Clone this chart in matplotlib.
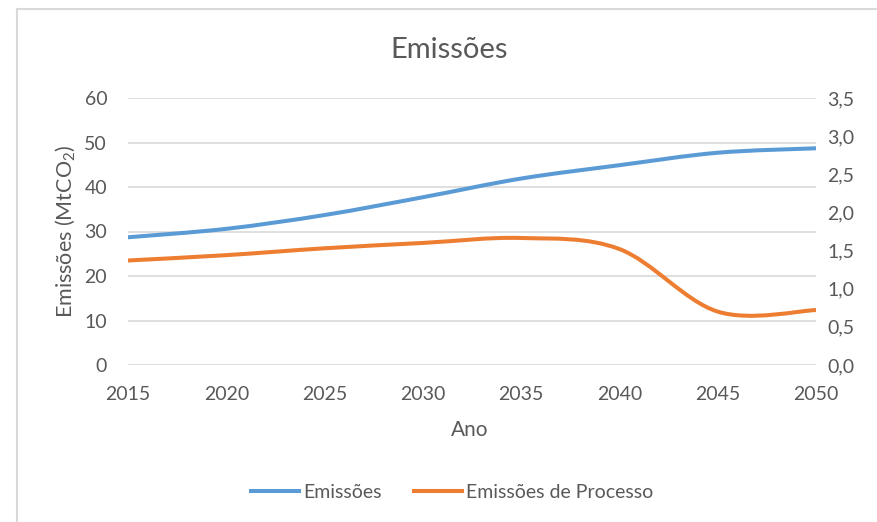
import matplotlib
matplotlib.use("Agg")
import matplotlib.pyplot as plt
from matplotlib.path import Path
from matplotlib.patches import PathPatch
from matplotlib.lines import Line2D

plt.rcParams['font.family'] = ['Lato', 'DejaVu Sans']
plt.rcParams['mathtext.fontset'] = 'custom'
plt.rcParams['mathtext.rm'] = 'Lato'
plt.rcParams['mathtext.it'] = 'Lato:italic'

anos = [2015, 2020, 2025, 2030, 2035, 2040, 2045, 2050]
emissoes = [28.7, 30.6, 33.7, 37.7, 41.9, 44.9, 47.7, 48.7]
emissoes_processo = [1.37, 1.44, 1.53, 1.60, 1.665, 1.52, 0.70, 0.72]
ticks_esq = [0, 10, 20, 30, 40, 50, 60]
ticks_dir = [0.0, 0.5, 1.0, 1.5, 2.0, 2.5, 3.0, 3.5]

AZUL = '#5B9BD5'
LARANJA = '#ED7D31'
CINZA = '#595959'
GRADE = '#D9D9D9'


def curva_suave(ax, xs, ys, cor, lw):
    """Smoothed line through the points using cubic Bezier segments."""
    n = len(xs)
    pts = list(zip(xs, ys))
    verts = [pts[0]]
    codes = [Path.MOVETO]
    for i in range(n - 1):
        p0 = pts[max(i - 1, 0)]
        p1 = pts[i]
        p2 = pts[i + 1]
        p3 = pts[min(i + 2, n - 1)]
        c1 = (p1[0] + (p2[0] - p0[0]) / 6, p1[1] + (p2[1] - p0[1]) / 6)
        c2 = (p2[0] - (p3[0] - p1[0]) / 6, p2[1] - (p3[1] - p1[1]) / 6)
        verts += [c1, c2, p2]
        codes += [Path.CURVE4] * 3
    patch = PathPatch(Path(verts, codes), facecolor='none', edgecolor=cor,
                      lw=lw, capstyle='round', joinstyle='round', zorder=3)
    ax.add_patch(patch)


fig = plt.figure(figsize=(8.77, 5.22), dpi=100)
ax = fig.add_axes([128 / 877, 1 - 365 / 522, 688 / 877, 267 / 522])
ax2 = ax.twinx()

curva_suave(ax, anos, emissoes, AZUL, 2.9)
curva_suave(ax2, anos, emissoes_processo, LARANJA, 2.9)

ax.set_xlim(anos[0], anos[-1])
ax.set_ylim(0, 60)
ax2.set_ylim(0, 3.5)
ax.set_xticks(anos)
ax.set_xticklabels([str(a) for a in anos])
ax.set_yticks(ticks_esq)
ax2.set_yticks(ticks_dir)
ax2.set_yticklabels([f"{v:.1f}".replace('.', ',') for v in ticks_dir])

for a in (ax, ax2):
    for s in a.spines.values():
        s.set_visible(False)
    a.tick_params(length=0, labelsize=14, colors=CINZA)
ax.tick_params(axis='y', pad=15)
ax.tick_params(axis='x', pad=15)
ax2.tick_params(axis='y', pad=8)

ax.grid(axis='y', color=GRADE, lw=1.2)
ax.set_axisbelow(True)

ax.set_ylabel('Emissões (MtCO$_2$)', fontsize=15.5, color=CINZA)
ax.yaxis.set_label_coords(-0.074, 0.5)
ax.set_xlabel('Ano', fontsize=15, color=CINZA)
ax.xaxis.set_label_coords(0.497, -0.205)

fig.text(0.512, 1 - 50 / 522, 'Emissões', ha='center', va='center',
         fontsize=21, color=CINZA)

handles = [Line2D([], [], color=AZUL, lw=2.9),
           Line2D([], [], color=LARANJA, lw=2.9)]
fig.legend(handles, ['Emissões', 'Emissões de Processo'], loc='center',
           bbox_to_anchor=(452 / 877, 1 - 492 / 522), ncol=2, frameon=False,
           fontsize=14, labelcolor=CINZA, handlelength=2.5,
           handletextpad=0.2, columnspacing=1.65)

# chart frame (top and left edges)
fig.add_artist(Line2D([17 / 877, 1], [1 - 9 / 522, 1 - 9 / 522],
                      transform=fig.transFigure, color=GRADE, lw=1.5))
fig.add_artist(Line2D([17 / 877, 17 / 877], [0, 1 - 9 / 522],
                      transform=fig.transFigure, color=GRADE, lw=1.5))

fig.savefig('out.png', dpi=100)
